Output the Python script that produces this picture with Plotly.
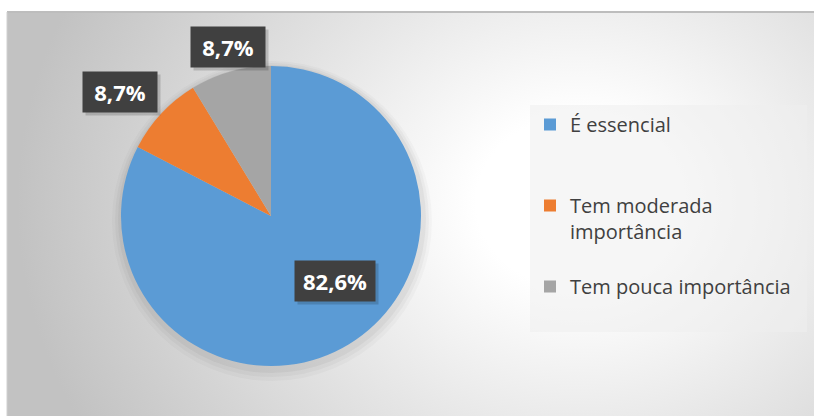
import base64
import math
import plotly.graph_objects as go

# ---- data ----
categories = ["É essencial<br> <br> ", "Tem moderada<br>importância<br> ", "Tem pouca importância\u00a0\u00a0<br> "]
values = [82.6, 8.7, 8.7]
colors = ["#5B9BD5", "#ED7D31", "#A5A5A5"]
label_texts = [f"{v:.1f}%".replace(".", ",") for v in values]

W, H = 814, 416
# pie placement (pixels)
cx_px, cy_px, r_px = 271, 216, 150


def dom(cx, cy, r):
    return dict(x=[(cx - r) / W, (cx + r) / W], y=[1 - (cy + r) / H, 1 - (cy - r) / H])


fig = go.Figure()
# soft shadow layers behind the pie
for dr, dy, a in [(10, 5, 0.025), (7, 4, 0.03), (4, 3, 0.04)]:
    fig.add_trace(go.Pie(
        values=[sum(values)], labels=["shadow"], sort=False, showlegend=False,
        marker=dict(colors=[f"rgba(0,0,0,{a})"], line=dict(width=0)),
        textinfo="none", hoverinfo="skip", domain=dom(cx_px + 1, cy_px + dy, r_px + dr),
    ))
fig.add_trace(go.Pie(
    labels=categories, values=values, sort=False, direction="clockwise", rotation=0,
    marker=dict(colors=colors, line=dict(width=0)),
    textinfo="none", hoverinfo="percent",
    domain=dom(cx_px, cy_px, r_px), showlegend=True,
))

# background radial gradient (frame)
svg = '''<svg xmlns="http://www.w3.org/2000/svg" width="807" height="404" viewBox="0 0 807 404" preserveAspectRatio="none">
<defs><radialGradient id="g" gradientUnits="userSpaceOnUse" cx="570" cy="190" r="560" gradientTransform="translate(570 190) scale(1 0.85) translate(-570 -190)">
<stop offset="0" stop-color="#ffffff"/><stop offset="0.18" stop-color="#ffffff"/><stop offset="1" stop-color="#c2c2c2"/></radialGradient></defs>
<rect x="0" y="0" width="807" height="404" fill="url(#g)"/></svg>'''
src = "data:image/svg+xml;base64," + base64.b64encode(svg.encode()).decode()
fx0, fy0 = 7, 12
fig.add_layout_image(dict(source=src, xref="paper", yref="paper", x=fx0 / W, y=1 - fy0 / H,
                          sizex=(W - fx0) / W, sizey=(H - fy0) / H, sizing="stretch",
                          xanchor="left", yanchor="top", layer="below"))
fig.add_shape(type="line", xref="paper", yref="paper", x0=fx0 / W, x1=1, y0=1 - fy0 / H, y1=1 - fy0 / H,
              line=dict(color="#bdbdbd", width=2))
fig.add_shape(type="line", xref="paper", yref="paper", x0=fx0 / W, x1=fx0 / W, y0=0, y1=1 - fy0 / H,
              line=dict(color="#d0d0d0", width=1))

# data labels computed from slice mid-angles
total = sum(values)
factors = [0.61, 1.30, 1.15]
shifts = [(16, 13), (-8, -9), (4, 3)]
box_w = [70, 64, 64]
cum = 0.0
for v, t, f, (xs, ys), bw in zip(values, label_texts, factors, shifts, box_w):
    mid = (cum + v / 2) / total * 2 * math.pi
    cum += v
    px = cx_px + r_px * f * math.sin(mid) + xs
    py = cy_px - r_px * f * math.cos(mid) - ys
    # soft shadow box
    fig.add_annotation(
        x=(px + 3) / W, y=1 - (py + 3) / H, xref="paper", yref="paper", showarrow=False,
        text=" ", width=bw, height=30, font=dict(size=10),
        bgcolor="rgba(0,0,0,0.16)", borderpad=5, xanchor="center", yanchor="middle",
    )
    fig.add_annotation(
        x=px / W, y=1 - py / H, xref="paper", yref="paper", showarrow=False,
        text=f"<b>{t}</b>", width=bw, height=30,
        font=dict(family="Open Sans", size=22, color="white"),
        bgcolor="#404040", borderpad=5, xanchor="center", yanchor="middle",
    )

fig.update_layout(
    width=W, height=H, margin=dict(l=0, r=0, t=0, b=0),
    paper_bgcolor="white", plot_bgcolor="white",
    legend=dict(
        x=530 / W, y=1 - 105 / H, xanchor="left", yanchor="top",
        bgcolor="rgba(238,238,238,0.55)", borderwidth=0,
        font=dict(family="Open Sans", size=20, color="#404040"),
        valign="top", itemwidth=30,
    ),
)
fig.write_html("out.html", config={"displayModeBar": False},
               post_script="document.body.style.margin='0';")
